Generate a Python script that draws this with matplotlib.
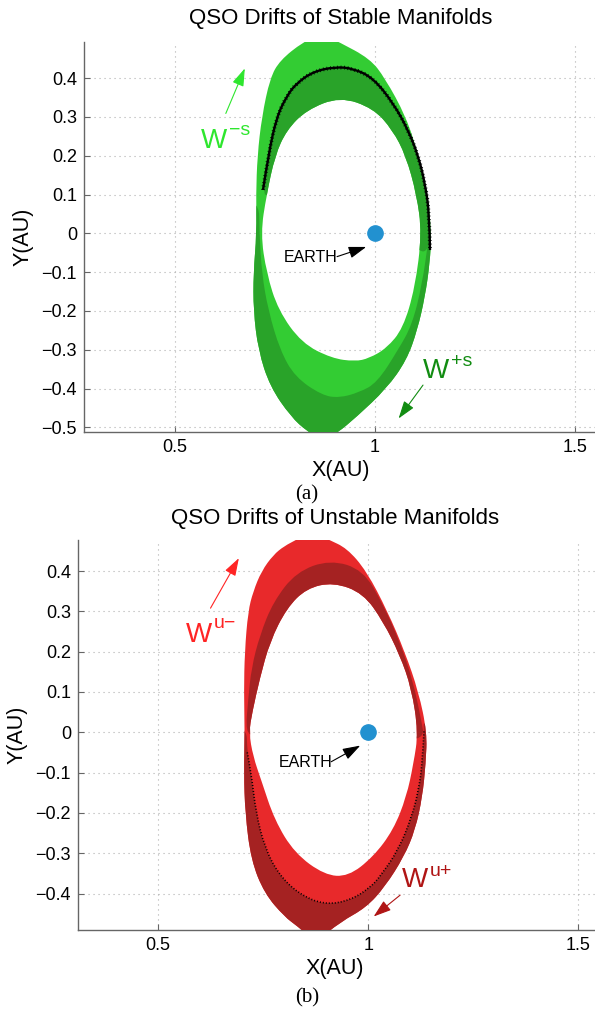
import numpy as np
import matplotlib
matplotlib.use("Agg")
import matplotlib.pyplot as plt
from matplotlib.path import Path
from matplotlib.patches import PathPatch

plt.rcParams['font.family'] = ['Liberation Sans', 'DejaVu Sans']

# ---- stable manifolds (AU) ----
stable_outer = [(0.865, 0.515), (0.82, 0.493), (0.7625, 0.446), (0.7375, 0.40), (0.717, 0.30),
                (0.706, 0.20), (0.7025, 0.10), (0.704, 0.0), (0.696, -0.103), (0.696, -0.198),
                (0.708, -0.301), (0.7375, -0.395), (0.79, -0.473), (0.83, -0.51), (0.87, -0.535),
                (0.905, -0.515), (0.954, -0.473), (1.029, -0.40), (1.079, -0.327), (1.106, -0.249),
                (1.125, -0.163), (1.137, -0.077), (1.141, 0.0), (1.132, 0.10), (1.109, 0.20),
                (1.078, 0.30), (1.025, 0.40), (0.9875, 0.45), (0.91, 0.493)]
stable_hole = [(0.9125, 0.352), (0.829, 0.318), (0.779, 0.266), (0.75, 0.20), (0.729, 0.10),
               (0.714, 0.0), (0.729, -0.103), (0.758, -0.198), (0.817, -0.283), (0.892, -0.322),
               (0.95, -0.33), (0.985, -0.322), (1.029, -0.296), (1.07, -0.245), (1.1, -0.14),
               (1.117, 0.0), (1.104, 0.10), (1.077, 0.20), (1.044, 0.266), (0.996, 0.322)]
stable_arc = [(0.72, 0.112), (0.733, 0.20), (0.754, 0.30), (0.78, 0.355), (0.804, 0.387),
              (0.846, 0.417), (0.90, 0.429), (0.946, 0.425), (0.996, 0.40), (1.046, 0.335),
              (1.083, 0.266), (1.108, 0.20), (1.125, 0.129), (1.136, 0.05), (1.1375, -0.043)]
stable_arc_back = [(1.105, -0.05), (0.92, 0.15), (0.73, 0.09)]
stable_split = [(0.71, 0.09), (0.711, 0.0), (0.717, -0.103), (0.733, -0.198), (0.7625, -0.301),
                (0.80, -0.37), (0.867, -0.417), (0.91, -0.424), (0.96, -0.41), (1.005, -0.385),
                (1.058, -0.30), (1.093, -0.235), (1.118, -0.13), (1.133, -0.02), (1.14, 0.03)]
stable_split_outside = [(1.25, 0.03), (1.25, -0.7), (0.6, -0.7), (0.6, 0.09)]

# ---- unstable manifolds (AU) ----
unstable_outer = [(0.865, 0.50), (0.83, 0.478), (0.80, 0.462), (0.774, 0.44), (0.746, 0.40),
                  (0.726, 0.349), (0.714, 0.30), (0.706, 0.20), (0.704, 0.10), (0.706, 0.0),
                  (0.704, -0.10), (0.707, -0.20), (0.721, -0.317), (0.753, -0.40), (0.801, -0.458),
                  (0.83, -0.48), (0.875, -0.52), (0.935, -0.47), (0.995, -0.435), (1.04, -0.383),
                  (1.085, -0.309), (1.112, -0.242), (1.129, -0.16), (1.137, -0.077), (1.14, 0.0),
                  (1.12, 0.10), (1.087, 0.20), (1.046, 0.30), (0.996, 0.40), (0.949, 0.457),
                  (0.905, 0.478)]
unstable_hole = [(0.917, 0.372), (0.853, 0.357), (0.806, 0.308), (0.766, 0.225), (0.742, 0.134),
                 (0.724, 0.05), (0.716, 0.0), (0.726, -0.06), (0.745, -0.118), (0.777, -0.218),
                 (0.825, -0.30), (0.896, -0.354), (0.952, -0.358), (1.012, -0.309), (1.06, -0.242),
                 (1.091, -0.16), (1.108, -0.077), (1.119, 0.0), (1.103, 0.109), (1.075, 0.192),
                 (1.036, 0.274), (0.988, 0.345)]
unstable_top = [(0.708, 0.0), (0.714, 0.08), (0.722, 0.16), (0.742, 0.241), (0.774, 0.324),
                (0.829, 0.398), (0.909, 0.428), (0.988, 0.403), (1.036, 0.316), (1.075, 0.225),
                (1.107, 0.126), (1.127, 0.026), (1.133, -0.01)]
unstable_top_back = [(1.10, -0.02), (0.92, 0.15), (0.73, -0.01)]
unstable_split = [(0.71, 0.02), (0.712, -0.05), (0.7214, -0.102), (0.733, -0.201), (0.753, -0.284),
                  (0.785, -0.35), (0.833, -0.40), (0.896, -0.4286), (0.96, -0.416), (1.007, -0.383),
                  (1.028, -0.358), (1.072, -0.292), (1.104, -0.209), (1.12, -0.143), (1.129, -0.077),
                  (1.133, 0.006), (1.131, 0.03)]
unstable_split_outside = [(1.3, 0.03), (1.3, -0.7), (0.6, -0.7), (0.6, 0.02)]

earth = (1.0, 0.0)
y_ticks_a = [-0.5, -0.4, -0.3, -0.2, -0.1, 0, 0.1, 0.2, 0.3, 0.4]
y_ticks_b = [-0.4, -0.3, -0.2, -0.1, 0, 0.1, 0.2, 0.3, 0.4]
x_ticks = [0.5, 1, 1.5]
x_tick_labels = ['0.5', '1', '1.5']


def closed_curve(pts):
    # quadratic b-spline through the outline points
    p = np.asarray(pts, float)
    mids = (p + np.roll(p, -1, axis=0)) / 2
    verts = [mids[-1]]
    codes = [Path.MOVETO]
    for i in range(len(p)):
        verts += [p[i], mids[i]]
        codes += [Path.CURVE3, Path.CURVE3]
    verts.append(mids[-1])
    codes.append(Path.CLOSEPOLY)
    return verts, codes


def open_curve(pts):
    p = np.asarray(pts, float)
    verts = [p[0]]
    codes = [Path.MOVETO]
    for i in range(1, len(p) - 1):
        end = (p[i] + p[i + 1]) / 2 if i < len(p) - 2 else p[-1]
        verts += [p[i], end]
        codes += [Path.CURVE3, Path.CURVE3]
    return Path(verts, codes)


def ring(outer, hole):
    v1, c1 = closed_curve(outer)
    v2, c2 = closed_curve(hole[::-1])
    return Path(v1 + v2, c1 + c2)


def tick_text(v):
    if v == 0:
        return '0'
    return ('\u2212' if v < 0 else '') + f'{abs(v):g}'


def setup_axes(ax, xlim, ylim, yticks):
    ax.set_xlim(*xlim)
    ax.set_ylim(*ylim)
    ax.set_xticks(x_ticks)
    ax.set_xticklabels(x_tick_labels)
    ax.set_yticks(yticks)
    ax.set_yticklabels([tick_text(v) for v in yticks])
    ax.tick_params(direction='in', length=4, width=0.8, color='#666666', labelsize=13, pad=5)
    ax.grid(True, color='#b0b0b0', linestyle=(0, (1, 3.5)), linewidth=0.8)
    ax.set_axisbelow(True)
    for s in ['top', 'right']:
        ax.spines[s].set_visible(False)
    for s in ['left', 'bottom']:
        ax.spines[s].set_color('#666666')
        ax.spines[s].set_linewidth(1.0)


def draw_family(ax, outer, hole, top, top_back, split, split_out, light, dark):
    base = PathPatch(ring(outer, hole), facecolor=light, edgecolor='none', zorder=2)
    ax.add_patch(base)
    for pts in (top + top_back, split + split_out):
        v, c = closed_curve(pts)
        patch = PathPatch(Path(v, c), facecolor=dark, edgecolor='none', zorder=3)
        ax.add_patch(patch)
        patch.set_clip_path(base)


def arrow(ax, tail, head, color, lw=0.8):
    ax.annotate('', xy=head, xytext=tail,
                arrowprops=dict(arrowstyle='-|>,head_length=0.9,head_width=0.3',
                                color=color, lw=lw, shrinkA=0, shrinkB=0, mutation_scale=12),
                zorder=6)


def manifold_label(ax, x, y, sup, color, rise=9):
    ax.text(x, y, 'W', fontsize=20, color=color, va='baseline', zorder=6)
    ax.annotate(sup, xy=(x, y), xytext=(20, rise), textcoords='offset points',
                fontsize=14, color=color, va='baseline', zorder=6)


fig = plt.figure(figsize=(5.95, 10.13), dpi=100)

# (a) stable
ax1 = fig.add_axes([0.1412, 0.5735, 0.8588, 0.385])
setup_axes(ax1, (0.2725, 1.55), (-0.512, 0.493), y_ticks_a)
draw_family(ax1, stable_outer, stable_hole, stable_arc, stable_arc_back,
            stable_split, stable_split_outside, '#33CC33', '#29A329')
arc = open_curve(stable_arc)
ax1.add_patch(PathPatch(arc, facecolor='none', edgecolor='black', lw=1.7, zorder=4))
ax1.add_patch(PathPatch(arc, facecolor='none', edgecolor='black', lw=2.8,
                        linestyle=(0, (0.2, 0.7)), zorder=4))
ax1.plot(*earth, 'o', color='#2291D0', markersize=11, zorder=5)
ax1.text(0.772, -0.073, 'EARTH', fontsize=11.5, va='baseline', zorder=6)
arrow(ax1, (0.905, -0.06), (0.978, -0.035), 'black')
manifold_label(ax1, 0.565, 0.219, '\u2212s', '#2EE62E', rise=9.5)
arrow(ax1, (0.627, 0.309), (0.6745, 0.425), '#2EE62E')
manifold_label(ax1, 1.12, -0.373, '+s', '#128C12', rise=8.5)
arrow(ax1, (1.12, -0.391), (1.059, -0.477), '#128C12')

# (b) unstable
ax2 = fig.add_axes([0.1311, 0.0819, 0.8689, 0.385])
setup_axes(ax2, (0.309, 1.54), (-0.4906, 0.477), y_ticks_b)
draw_family(ax2, unstable_outer, unstable_hole, unstable_top, unstable_top_back,
            unstable_split, unstable_split_outside, '#E8292B', '#A52222')
ax2.add_patch(PathPatch(open_curve(unstable_split[1:-1]), facecolor='none', edgecolor='black',
                        lw=1.2, linestyle=(0, (0.6, 1.2)), zorder=4))
ax2.plot(*earth, 'o', color='#2291D0', markersize=11, zorder=5)
ax2.text(0.787, -0.085, 'EARTH', fontsize=11.5, va='baseline', zorder=6)
arrow(ax2, (0.912, -0.073), (0.981, -0.033), 'black')
manifold_label(ax2, 0.566, 0.225, 'u\u2212', '#FF2424', rise=9.5)
arrow(ax2, (0.6245, 0.308), (0.692, 0.432), '#FF2424')
manifold_label(ax2, 1.081, -0.383, 'u+', '#B01515', rise=8)
arrow(ax2, (1.076, -0.404), (1.013, -0.457), '#B01515')

# titles, axis labels and captions
fig.text(0.573, 0.982, 'QSO Drifts of Stable Manifolds', ha='center', va='center', fontsize=16)
fig.text(0.563, 0.4886, 'QSO Drifts of Unstable Manifolds', ha='center', va='center', fontsize=16)
fig.text(0.573, 0.536, 'X(AU)', ha='center', va='center', fontsize=15.5)
fig.text(0.563, 0.0444, 'X(AU)', ha='center', va='center', fontsize=15.5)
fig.text(0.0387, 0.766, 'Y(AU)', ha='center', va='center', rotation=90, fontsize=15.5)
fig.text(0.0286, 0.2744, 'Y(AU)', ha='center', va='center', rotation=90, fontsize=15.5)
fig.text(0.516, 0.5114, '(a)', ha='center', va='center', fontsize=15, family='Liberation Serif')
fig.text(0.516, 0.0148, '(b)', ha='center', va='center', fontsize=15, family='Liberation Serif')

fig.savefig('out.png', dpi=100)
